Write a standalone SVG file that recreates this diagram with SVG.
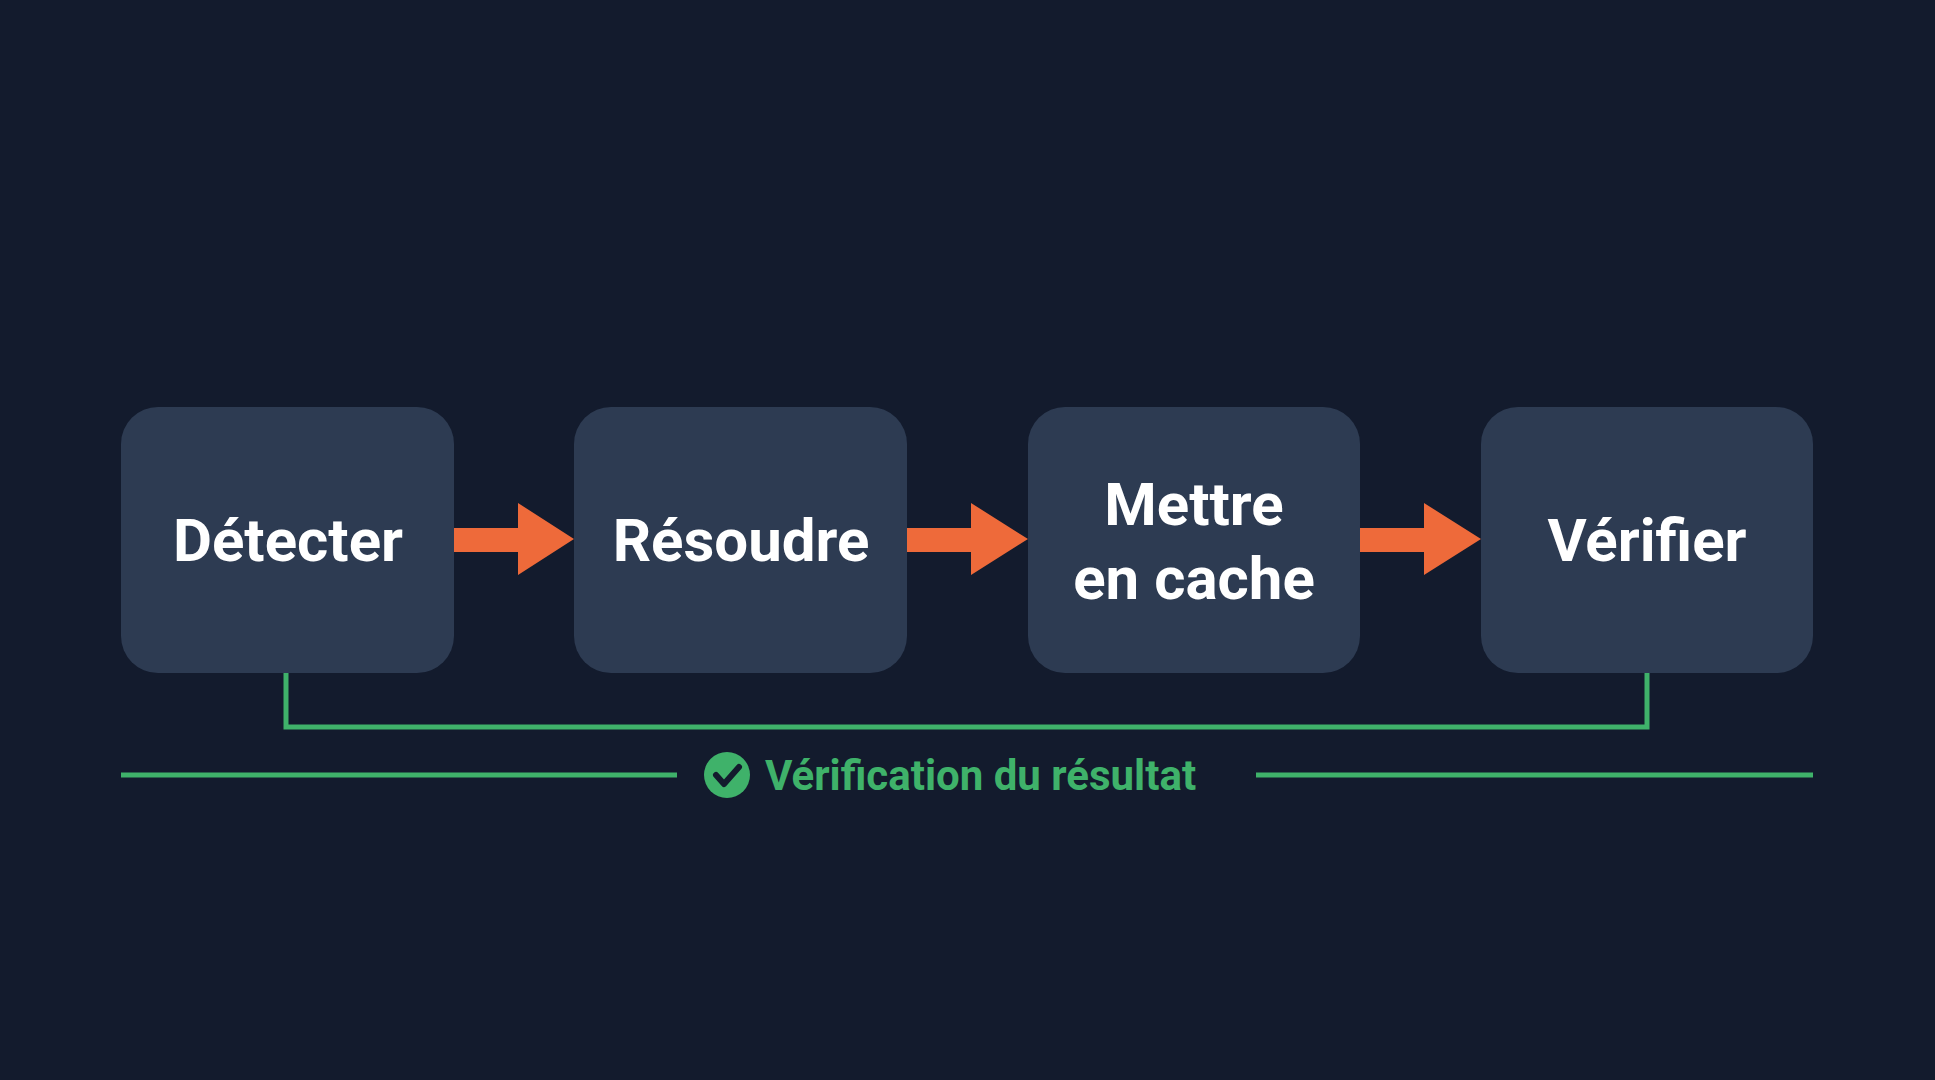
<svg xmlns="http://www.w3.org/2000/svg" width="1935" height="1080" viewBox="0 0 1935 1080">
<style>
.box{fill:#2d3b52}
.lbl{font-family:Roboto,"Liberation Sans",sans-serif;font-weight:bold;font-size:60px;fill:#ffffff;text-anchor:middle}
.arr{fill:#ee6a3a}
.g{stroke:#3fb26a;stroke-width:5;fill:none}
</style>
<rect width="1935" height="1080" fill="#131b2d"/>
<g id="n1"><rect class="box" x="121" y="407" width="333" height="266" rx="37"/><text class="lbl" x="288" y="561">Détecter</text></g>
<g id="n2"><rect class="box" x="574" y="407" width="333" height="266" rx="37"/><text class="lbl" x="741" y="561">Résoudre</text></g>
<g id="n3"><rect class="box" x="1028" y="407" width="332" height="266" rx="37"/><text class="lbl" x="1194" y="525">Mettre</text><text class="lbl" x="1194" y="599">en cache</text></g>
<g id="n4"><rect class="box" x="1481" y="407" width="332" height="266" rx="37"/><text class="lbl" x="1647" y="561">Vérifier</text></g>
<g id="connectors">
<polygon class="arr" points="454,528 518,528 518,503 574,539 518,575 518,552 454,552"/>
<polygon class="arr" points="907,528 971,528 971,503 1028,539 971,575 971,552 907,552"/>
<polygon class="arr" points="1360,528 1424,528 1424,503 1481,539 1424,575 1424,552 1360,552"/>
<polyline class="g" points="286,673 286,727 1647,727 1647,673"/>
</g>
<g id="legend">
<line class="g" x1="121" y1="775" x2="677" y2="775"/>
<line class="g" x1="1256" y1="775" x2="1813" y2="775"/>
<circle cx="727" cy="775" r="23" fill="#3fb26a"/>
<polyline points="716,775 724,784 739,767" fill="none" stroke="#131b2d" stroke-width="6" stroke-linecap="round" stroke-linejoin="round"/>
<text x="765" y="790" font-family="Roboto,'Liberation Sans',sans-serif" font-weight="bold" font-size="42" fill="#3fb26a">Vérification du résultat</text>
</g>
</svg>
